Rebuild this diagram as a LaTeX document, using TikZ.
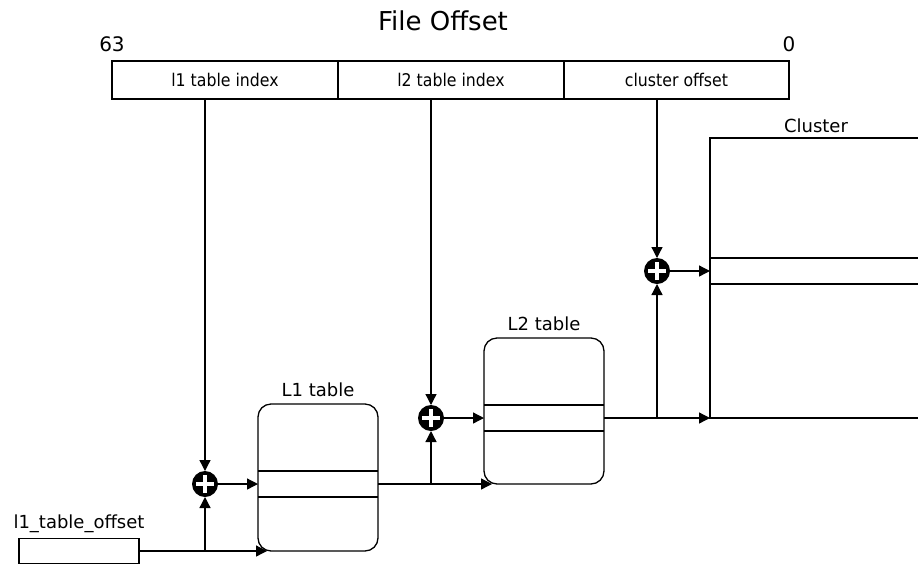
\documentclass[tikz,border=0pt]{standalone}
\usepackage{fontspec}
\usetikzlibrary{arrows.meta,calc,positioning}
\newfontfamily\qcFace{DejaVu Sans}
\newfontfamily\qcNarrow[FakeStretch=0.9]{DejaVu Sans}
\definecolor{qcInk}{HTML}{000000}
\newcommand{\QCType}{\qcFace\fontsize{18}{22}\selectfont}
\newcommand{\QCSmall}{\qcNarrow\fontsize{17.5}{20}\selectfont}
\newcommand{\QCTitle}{\qcFace\fontsize{26}{30}\selectfont}
\tikzset{qc/base/.style={x=1pt,y=1pt,line cap=butt,line join=miter,line width=1.3pt,
  every node/.style={font=\QCType,inner sep=0pt,outer sep=0pt,text=qcInk}},
  qc/arrow/.style={-{Triangle[length=11pt,width=11pt]},draw=qcInk,line width=1.3pt},
  qc/field/.style={draw=qcInk,minimum width=226pt,minimum height=38pt,font=\QCSmall},
  qc/table/.style={draw=qcInk,rounded corners=13pt,minimum width=120pt,minimum height=147pt},
  qc/cluster/.style={draw=qcInk,minimum width=230pt,minimum height=280pt},
  qc/offset/.style={draw=qcInk,minimum width=120pt,minimum height=25pt},
  qc/adder/.style={circle,fill=qcInk,minimum size=26pt,
    path picture={\draw[white,line width=4pt]
      ($(path picture bounding box.center)+(-9pt,0)$)--++(18pt,0)
      ($(path picture bounding box.center)+(0,-9pt)$)--++(0,18pt);}}}

\begin{document}
\begin{tikzpicture}[qc/base,y=-1pt]
  \useasboundingbox (0,0) rectangle (918,566);
  % file offset bit fields
  \node[qc/field] (f1) at (225,80) {l1 table index};
  \node[qc/field,right=0pt of f1] (f2) {l2 table index};
  \node[qc/field,right=0pt of f2,minimum width=225pt] (f3) {cluster offset};
  \node[anchor=base,font=\QCTitle] (title) at (443,30) {File Offset};
  \node[font=\qcFace\fontsize{20}{24}\selectfont,above=9pt of f1.north west] (msb) {63};
  \node[font=\qcFace\fontsize{20}{24}\selectfont,above=9pt of f3.north east] (lsb) {0};
  % tables
  \node[qc/offset] (off) at (79,551) {};
  \node[above=6pt of off] (offlbl) {l1\_table\_offset};
  \node[qc/table] (l1) at (318,477.5) {};
  \node[above=7pt of l1] (l1lbl) {L1 table};
  \node[qc/table,minimum height=146pt] (l2) at (544,411) {};
  \node[above=7pt of l2] (l2lbl) {L2 table};
  \node[qc/cluster] (cl) at (825,278) {};
  \node[anchor=south] (cllbl) at ($(cl.north)+(-9,-5)$) {Cluster};
  \foreach \t/\d in {l1/-6.5,l2/-6,cl/-20}{
    \draw ($(\t.west)+(0,\d)$) -- ($(\t.east)+(0,\d)$);
    \draw ($(\t.west)+(0,\d+26)$) -- ($(\t.east)+(0,\d+26)$);}
  % adders
  \node[qc/adder] (p1) at (205,484) {};
  \node[qc/adder] (p2) at (431,418) {};
  \node[qc/adder] (p3) at (657,271) {};
  \foreach \f/\p in {f1/p1,f2/p2,f3/p3}{\draw[qc/arrow] (\f.south -| \p) -- (\p.north);}
  % index lookups
  \draw[qc/arrow] (off.east) -- ([xshift=9pt]l1.south west);
  \draw[qc/arrow] (off.east -| p1) -- (p1.south);
  \draw[qc/arrow] (p1) -- (p1 -| l1.west);
  \draw[qc/arrow] (l1.east |- p1) -- ([xshift=8pt]l2.south west);
  \draw[qc/arrow] (p1 -| p2) -- (p2.south);
  \draw[qc/arrow] (p2) -- (p2 -| l2.west);
  \draw[qc/arrow] (l2.east |- p2) -- (cl.south west);
  \draw[qc/arrow] (p2 -| p3) -- (p3.south);
  \draw[qc/arrow] (p3) -- (p3 -| cl.west);
\end{tikzpicture}
\end{document}
